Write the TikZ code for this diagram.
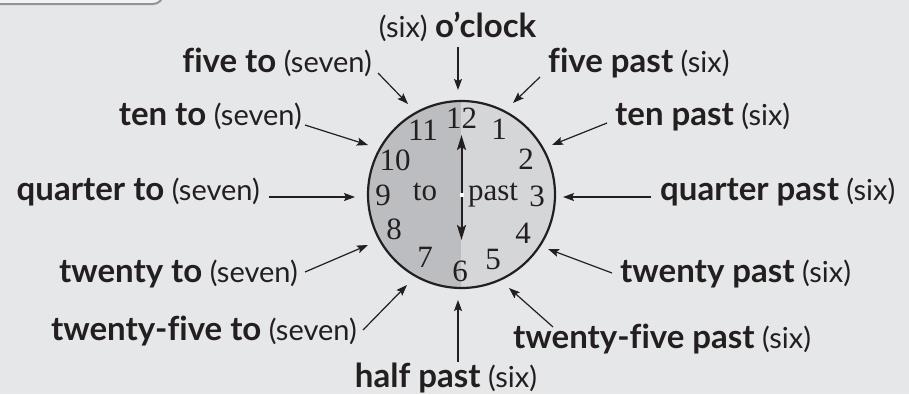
\documentclass[tikz,border=0pt]{standalone}
\usepackage{fontspec}
\setmainfont{Lato}[Ligatures=NoCommon]
\newfontfamily\clockfont{Liberation Serif}
\usetikzlibrary{arrows.meta}
\definecolor{bggray}{HTML}{E6E7E8}
\definecolor{togray}{HTML}{BCBDC0}
\definecolor{pastgray}{HTML}{D5D6D8}
\definecolor{ink}{HTML}{231F20}
\newcommand{\hl}[1]{{\fontsize{33}{36}\selectfont\bfseries #1}}

\begin{document}
\begin{tikzpicture}[x=1pt,y=-1pt,
  lbl/.style={inner sep=0pt,text=ink,font=\fontsize{29}{32}\selectfont},
  num/.style={inner sep=0pt,text=ink,font=\clockfont\fontsize{31}{34}\selectfont},
  pointer/.style={draw=ink,line width=1.2pt,-{Stealth[length=11pt,width=8pt,inset=2pt]}},
  hand/.style={draw=ink,line width=2pt,-{Stealth[length=15pt,width=9pt,inset=3pt]}}]
  \useasboundingbox (0,0) rectangle (909,394);
  \fill[bggray] (0,0) rectangle (909,394);
  \draw[line width=2pt,draw=gray!85,fill=white!45!bggray,rounded corners=10pt] (-10,-20) rectangle (163,4);

  % clock face
  \coordinate (c) at (461.5,194.5);
  \fill[pastgray] (c) circle[radius=93.5];
  \begin{scope}
    \clip (c) circle[radius=93.5];
    \fill[togray] (360,95) rectangle (461,295);
  \end{scope}
  \draw[ink,line width=2.2pt] (c) circle[radius=93.5];

  \node[num] (n12) at (461.5,118) {12};
  \node[num] (n1) at (499,129) {1};
  \node[num] (n2) at (526,159) {2};
  \node[num] (n3) at (537,196) {3};
  \node[num] (n4) at (523,233) {4};
  \node[num] (n5) at (493,259) {5};
  \node[num] (n6) at (460,271) {6};
  \node[num] (n7) at (425,257) {7};
  \node[num] (n8) at (394,229) {8};
  \node[num] (n9) at (383,195) {9};
  \node[num] (n10) at (395,160) {10};
  \node[num] (n11) at (423,130) {11};
  \node[num,anchor=base] (to) at (425,200) {to};
  \node[num,anchor=base] (past) at (493,200) {past};

  \coordinate (up) at (461.5,135);
  \coordinate (down) at (461.5,240);
  \draw[hand] (c) -- (up);
  \draw[hand] (c) -- (down);
  \fill[white] (459.5,192.5) rectangle (463.5,196.5);

  % labels
  \node[lbl,anchor=base] (oclock) at (457.5,37) {(six) \hl{o’clock}};
  \node[lbl,anchor=base east] (fiveto) at (372,72) {\hl{five to} (seven)};
  \node[lbl,anchor=base east] (tento) at (302,125) {\hl{ten to} (seven)};
  \node[lbl,anchor=base east] (quarterto) at (260,200) {\hl{quarter to} (seven)};
  \node[lbl,anchor=base east] (twentyto) at (298,282) {\hl{twenty to} (seven)};
  \node[lbl,anchor=base east] (twentyfiveto) at (357,340) {\hl{twenty-five to} (seven)};
  \node[lbl,anchor=base] (halfpast) at (446,387) {\hl{half past} (six)};
  \node[lbl,anchor=base west] (fivepast) at (548,72) {\hl{five past} (six)};
  \node[lbl,anchor=base west] (tenpast) at (615,125) {\hl{ten past} (six)};
  \node[lbl,anchor=base west] (quarterpast) at (660,200) {\hl{quarter past} (six)};
  \node[lbl,anchor=base west] (twentypast) at (620,282) {\hl{twenty past} (six)};
  \node[lbl,anchor=base west] (twentyfivepast) at (513,348) {\hl{twenty-five past} (six)};

  % arrow tips round the clock
  \coordinate (t0) at (458,90);
  \coordinate (t5) at (513,103);
  \coordinate (t10) at (552,145);
  \coordinate (t15) at (563,197);
  \coordinate (t20) at (548,249);
  \coordinate (t25) at (509,288);
  \coordinate (t30) at (458,300);
  \coordinate (t35) at (407,285);
  \coordinate (t40) at (368,245);
  \coordinate (t45) at (355,197);
  \coordinate (t50) at (368,145);
  \coordinate (t55) at (408,104);

  \draw[pointer] ([shift={(0.5,10)}]oclock.base) -- (t0);
  \draw[pointer] ([shift={(-8,5)}]fivepast.base west) -- (t5);
  \draw[pointer] ([shift={(-8,-2)}]tenpast.base west) -- (t10);
  \draw[pointer] ([shift={(-9,-3)}]quarterpast.base west) -- (t15);
  \draw[pointer] ([shift={(-8,-9)}]twentypast.base west) -- (t20);
  \draw[pointer] ([shift={(40,-21)}]twentyfivepast.base west) -- (t25);
  \draw[pointer] ([shift={(12,-25)}]halfpast.base) -- (t30);
  \draw[pointer] ([shift={(6,-10)}]twentyfiveto.base east) -- (t35);
  \draw[pointer] ([shift={(7,-10)}]twentyto.base east) -- (t40);
  \draw[pointer] ([shift={(9,-3)}]quarterto.base east) -- (t45);
  \draw[pointer] ([shift={(3,0)}]tento.base east) -- (t50);
  \draw[pointer] ([shift={(6,1)}]fiveto.base east) -- (t55);
\end{tikzpicture}
\end{document}
